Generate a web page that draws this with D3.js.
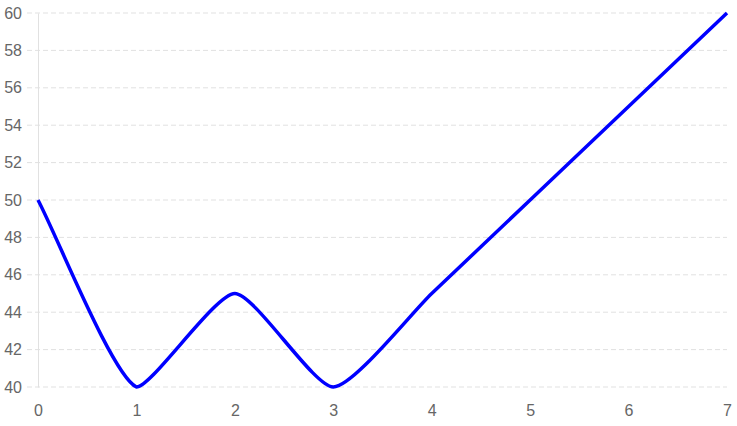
<!DOCTYPE html>
<html lang="en">
<head>
    <meta charset="UTF-8">
    <title>Line</title>
    <style>
        body { margin: 0; background: #fff; font-family: "Liberation Sans", Arial, sans-serif; }
        .tick text { fill: #666; font-size: 16px; font-family: "Liberation Sans", Arial, sans-serif; }
    </style>
</head>
<body>
    <div id="chart"></div>
    <script src="https://d3js.org/d3.v7.min.js"></script>
    <script>
        // data
        const xValues = [0, 1, 2, 3, 4, 5, 6, 7];
        const yValues = [50, 40, 45, 40, 45, 50, 55, 60];
        const yTicks = [40, 42, 44, 46, 48, 50, 52, 54, 56, 58, 60];

        const width = 737, height = 426;
        const margin = { top: 13, right: 10, bottom: 39, left: 38 };
        const w = width - margin.left - margin.right;
        const h = height - margin.top - margin.bottom;

        const svg = d3.select("#chart").append("svg")
            .attr("width", width).attr("height", height);
        const g = svg.append("g").attr("transform", `translate(${margin.left},${margin.top})`);

        const x = d3.scaleLinear().domain([0, 7]).range([0, w]);
        const y = d3.scaleLinear().domain([40, 60]).range([h, 0]);

        // y grid (dashed), reaching past the axis like a tick
        g.append("g").selectAll("line").data(yTicks).enter().append("line")
            .attr("x1", -11).attr("x2", w)
            .attr("y1", d => y(d)).attr("y2", d => y(d))
            .style("stroke", "#e1e1e1").style("stroke-width", 1)
            .style("stroke-dasharray", "5,3");

        // y axis
        const yAxis = g.append("g")
            .call(d3.axisLeft(y).tickValues(yTicks).tickSize(0).tickPadding(16).tickSizeOuter(0));
        yAxis.select(".domain").style("stroke", "#e1e1e1");

        // x axis
        const xAxis = g.append("g").attr("transform", `translate(0,${h})`)
            .call(d3.axisBottom(x).tickValues(xValues).tickFormat(d3.format("d")).tickSize(0).tickPadding(18));
        xAxis.select(".domain").remove();

        // bezier spline with tension, control points kept inside the plot area
        function splinePath(pts, t) {
            const cps = pts.map((cur, i) => {
                const prev = pts[i - 1] || cur, next = pts[i + 1] || cur;
                const d01 = Math.hypot(cur[0] - prev[0], cur[1] - prev[1]);
                const d12 = Math.hypot(next[0] - cur[0], next[1] - cur[1]);
                let s01 = d01 / (d01 + d12), s12 = d12 / (d01 + d12);
                if (isNaN(s01)) s01 = 0;
                if (isNaN(s12)) s12 = 0;
                const fa = t * s01, fb = t * s12;
                const clamp = p => [Math.max(0, Math.min(w, p[0])), Math.max(0, Math.min(h, p[1]))];
                return {
                    prev: clamp([cur[0] - fa * (next[0] - prev[0]), cur[1] - fa * (next[1] - prev[1])]),
                    next: clamp([cur[0] + fb * (next[0] - prev[0]), cur[1] + fb * (next[1] - prev[1])])
                };
            });
            const p = d3.path();
            p.moveTo(pts[0][0], pts[0][1]);
            for (let i = 1; i < pts.length; i++) {
                p.bezierCurveTo(cps[i - 1].next[0], cps[i - 1].next[1],
                    cps[i].prev[0], cps[i].prev[1], pts[i][0], pts[i][1]);
            }
            return p.toString();
        }

        const points = yValues.map((v, i) => [x(xValues[i]), y(v)]);

        g.append("path")
            .attr("d", splinePath(points, 0.2))
            .style("fill", "none")
            .style("stroke", "#0000ff")
            .style("stroke-width", 3.5)
            .style("stroke-linejoin", "round");
    </script>
</body>
</html>
